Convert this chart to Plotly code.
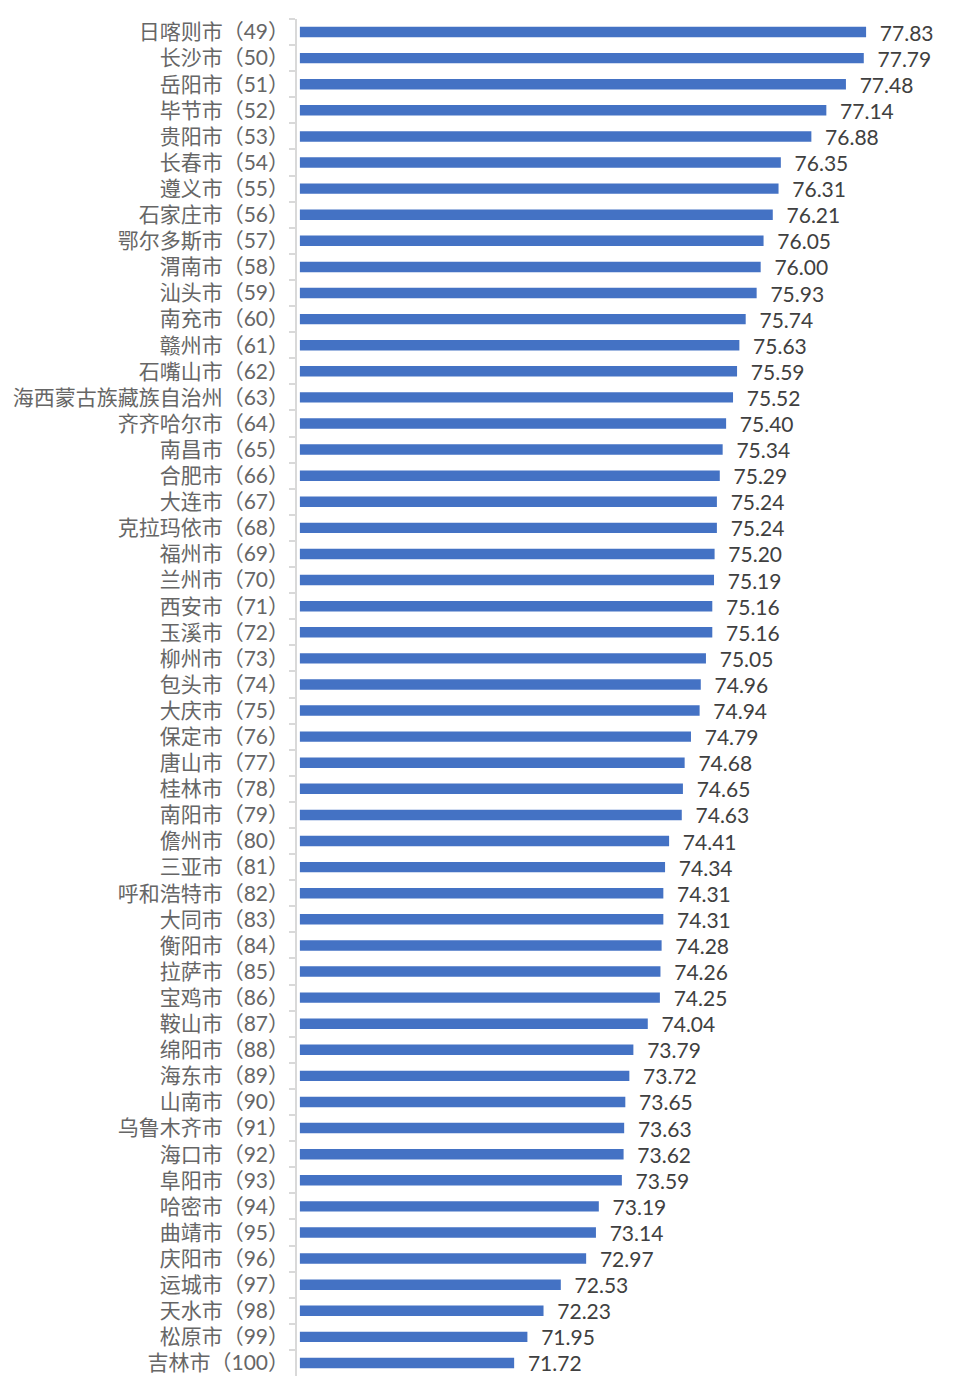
import plotly.graph_objects as go

cities = ["日喀则市", "长沙市", "岳阳市", "毕节市", "贵阳市", "长春市", "遵义市", "石家庄市",
          "鄂尔多斯市", "渭南市", "汕头市", "南充市", "赣州市", "石嘴山市", "海西蒙古族藏族自治州",
          "齐齐哈尔市", "南昌市", "合肥市", "大连市", "克拉玛依市", "福州市", "兰州市", "西安市",
          "玉溪市", "柳州市", "包头市", "大庆市", "保定市", "唐山市", "桂林市", "南阳市", "儋州市",
          "三亚市", "呼和浩特市", "大同市", "衡阳市", "拉萨市", "宝鸡市", "鞍山市", "绵阳市",
          "海东市", "山南市", "乌鲁木齐市", "海口市", "阜阳市", "哈密市", "曲靖市", "庆阳市",
          "运城市", "天水市", "松原市", "吉林市"]
ranks = list(range(49, 101))
values = [77.83, 77.79, 77.48, 77.14, 76.88, 76.35, 76.31, 76.21, 76.05, 76.00, 75.93, 75.74,
          75.63, 75.59, 75.52, 75.40, 75.34, 75.29, 75.24, 75.24, 75.20, 75.19, 75.16, 75.16,
          75.05, 74.96, 74.94, 74.79, 74.68, 74.65, 74.63, 74.41, 74.34, 74.31, 74.31, 74.28,
          74.26, 74.25, 74.04, 73.79, 73.72, 73.65, 73.63, 73.62, 73.59, 73.19, 73.14, 72.97,
          72.53, 72.23, 71.95, 71.72]
axis_min = 68

labels = [f"{c}（{r}）" for c, r in zip(cities, ranks)]

fig = go.Figure(go.Bar(
    x=[v - axis_min for v in values], base=axis_min, y=labels, orientation="h",
    marker=dict(color="#4472C4", line=dict(width=0)),
    text=[f"  {v:.2f}" for v in values], textposition="outside",
    constraintext="none",
    textfont=dict(family="Lato, Noto Sans CJK SC", size=21, color="#404040"),
    cliponaxis=False,
    hoverinfo="skip",
))

fig.update_layout(
    width=952, height=1375,
    margin=dict(l=289, r=15, t=11, b=7, autoexpand=False),
    paper_bgcolor="white", plot_bgcolor="white",
    bargap=0.6,
    showlegend=False,
    font=dict(family="Lato, Noto Sans CJK SC", color="#595959"),
)
fig.update_xaxes(range=[67.95, 79.2], visible=False, showgrid=False, zeroline=False)
fig.update_yaxes(
    autorange="reversed", type="category",
    showline=True, linecolor="#D9D9D9", linewidth=1.5,
    ticks="outside", tickson="boundaries", ticklen=6, tickcolor="#D9D9D9", tickwidth=1.5,
    tickfont=dict(family="Lato, Noto Sans CJK SC", size=21, color="#666666"),
    ticklabelstandoff=2,
    showgrid=False, automargin=False,
)

fig.write_html("out.html")
